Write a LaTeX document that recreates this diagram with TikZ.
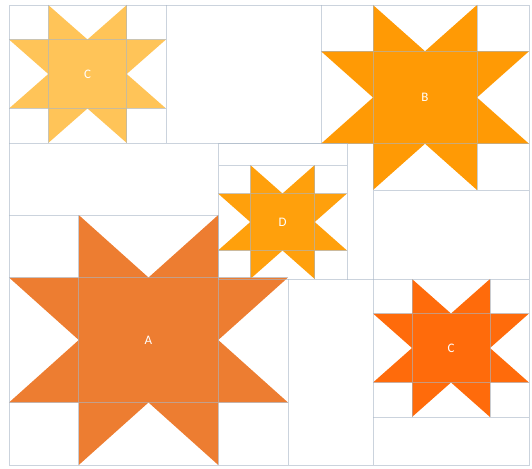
\documentclass[tikz,border=0pt]{standalone}
\usepackage{fontspec}
\setsansfont{Carlito}
\definecolor{seamgray}{HTML}{A8B6C6}
\definecolor{quiltA}{HTML}{ED7D31}
\definecolor{quiltB}{HTML}{FF9A05}
\definecolor{quiltD}{HTML}{FFA00C}
\definecolor{quiltCl}{HTML}{FFC458}
\definecolor{quiltCd}{HTML}{FF6B0B}
\tikzset{
  seam/.style={draw=seamgray,line width=0.9pt,draw opacity=0.6},
  patchlabel/.style={text=white,font=\sffamily\fontsize{13}{15}\selectfont}
}
% #1,#2 top left, #3,#4 bottom right, #5 colour, #6 text, #7 node name
\newcommand{\sawstar}[7]{
  \pgfmathsetmacro{\sxa}{#1+(#3-#1)/4}
  \pgfmathsetmacro{\sxb}{#1+(#3-#1)/2}
  \pgfmathsetmacro{\sxc}{#1+3*(#3-#1)/4}
  \pgfmathsetmacro{\sya}{#2+(#4-#2)/4}
  \pgfmathsetmacro{\syb}{#2+(#4-#2)/2}
  \pgfmathsetmacro{\syc}{#2+3*(#4-#2)/4}
  \fill[#5] (\sxa,#2) -- (\sxb,\sya) -- (\sxc,#2) -- (\sxc,\sya) -- (#3,\sya) -- (\sxc,\syb)
    -- (#3,\syc) -- (\sxc,\syc) -- (\sxc,#4) -- (\sxb,\syc) -- (\sxa,#4) -- (\sxa,\syc)
    -- (#1,\syc) -- (\sxa,\syb) -- (#1,\sya) -- (\sxa,\sya) -- cycle;
  \draw[seam] (\sxa,#2) -- (\sxa,#4) (\sxc,#2) -- (\sxc,#4) (#1,\sya) -- (#3,\sya) (#1,\syc) -- (#3,\syc);
  \node[patchlabel] (#7) at (\sxb,\syb) {#6};
}
\begin{document}
\begin{tikzpicture}[x=1pt,y=-1pt]
  \useasboundingbox (0,0) rectangle (532,468);
  \sawstar{9}{5}{166}{143}{quiltCl}{C}{starCl}
  \sawstar{321}{5}{529}{190}{quiltB}{B}{starB}
  \sawstar{218}{165}{347}{279}{quiltD}{D}{starD}
  \sawstar{9}{215}{288}{465}{quiltA}{A}{starA}
  \sawstar{373}{279}{529}{417}{quiltCd}{C}{starCd}
  \draw[seam] (9,5) rectangle (529,465);
  \draw[seam] (166,5) -- (166,143) (321,5) -- (321,143) (9,143) -- (321,143);
  \draw[seam] (218,143) rectangle (347,279) (218,165) -- (347,165);
  \draw[seam] (9,215) -- (218,215) (288,279) -- (288,465);
  \draw[seam] (373,190) -- (529,190) (373,190) -- (373,465);
  \draw[seam] (347,279) -- (529,279) (373,417) -- (529,417);
\end{tikzpicture}
\end{document}
